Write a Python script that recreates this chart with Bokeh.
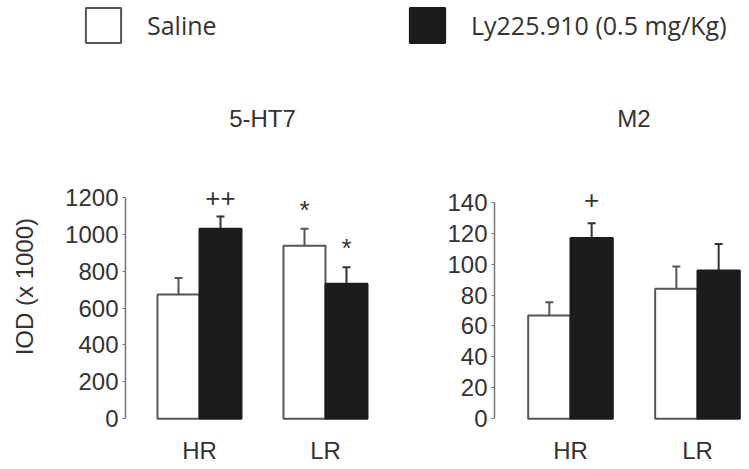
import math
from bokeh.plotting import figure
from bokeh.models import (ColumnDataSource, FixedTicker, Range1d, Whisker, TeeHead,
                          Legend, LegendItem)
from bokeh.transform import dodge
from bokeh.layouts import column, row
from bokeh.core.properties import value
from bokeh.embed import file_html
from bokeh.resources import INLINE

# ---------------- data ----------------
groups = ["HR", "LR"]
series = ["Saline", "Ly225.910 (0.5 mg/Kg)"]
panel_titles = ["5-HT7", "M2"]
y_label = "IOD (x 1000)"

ht7_saline = [673, 937]
ht7_saline_sem = [90, 92]
ht7_ly = [1029, 731]
ht7_ly_sem = [66, 90]
ht7_saline_marks = ["", "*"]
ht7_ly_marks = ["++", "*"]
ht7_ticks = [0, 200, 400, 600, 800, 1000, 1200]

m2_saline = [66.7, 84.0]
m2_saline_sem = [8.6, 14.4]
m2_ly = [116.9, 95.8]
m2_ly_sem = [9.5, 17.2]
m2_saline_marks = ["", ""]
m2_ly_marks = ["+", ""]
m2_ticks = [0, 20, 40, 60, 80, 100, 120, 140]

# ---------------- style / layout ----------------
FONT = "Liberation Sans"
LEG_FONT = "Open Sans"
TXT = "#333333"
AX = "#777777"
WHITE_LINE = "#555555"
BLACK = "#1c1c1c"
BW = 1 / 3.0

PAGE_W, PAGE_H = 749, 469
LEG_H = 100
PANEL_H = PAGE_H - LEG_H
FRAME_TOP = LEG_H     # page px
FRAME_BOT = 421       # page px
ZERO_PX = 418.3       # page px of value 0
LABEL_W = 50          # strip holding the y-axis title


def make_panel(title, sal, sal_sem, ly, ly_sem, sal_marks, ly_marks, ticks,
               top_px, fig_left, frame_left, frame_right, group_px, group_step, mark_dy):
    ppu = (ZERO_PX - top_px) / ticks[-1]
    y0 = -(FRAME_BOT - ZERO_PX) / ppu
    y1 = (ZERO_PX - FRAME_TOP) / ppu
    x_start = (frame_left - group_px) / group_step
    x_end = (frame_right - group_px) / group_step
    xs = list(range(len(groups)))
    src = ColumnDataSource(dict(
        x=xs, sal=sal, ly=ly,
        sal_top=[v + e for v, e in zip(sal, sal_sem)],
        ly_top=[v + e for v, e in zip(ly, ly_sem)],
        sal_mark=sal_marks, ly_mark=ly_marks,
    ))
    p = figure(width=frame_right - fig_left, height=PANEL_H, title=None,
               x_range=Range1d(x_start, x_end), y_range=Range1d(y0, y1),
               output_backend="svg", toolbar_location=None,
               min_border_left=frame_left - fig_left, min_border_right=0,
               min_border_top=0, min_border_bottom=PAGE_H - FRAME_BOT)
    p.outline_line_color = None
    p.grid.visible = False
    p.background_fill_color = "white"

    p.vbar(x=dodge("x", -BW / 2), top="sal", bottom=0, width=BW, source=src,
           fill_color="white", line_color=WHITE_LINE, line_width=2)
    p.vbar(x=dodge("x", BW / 2), top="ly", bottom=0, width=BW, source=src,
           fill_color=BLACK, line_color=BLACK, line_width=2)

    p.add_layout(Whisker(base=dodge("x", -BW / 2), lower="sal", upper="sal_top", source=src,
                         line_color=WHITE_LINE, line_width=2, lower_head=None,
                         upper_head=TeeHead(size=8, line_color=WHITE_LINE, line_width=2)))
    p.add_layout(Whisker(base=dodge("x", BW / 2), lower="ly", upper="ly_top", source=src,
                         line_color="#333333", line_width=2, lower_head=None,
                         upper_head=TeeHead(size=8, line_color="#333333", line_width=2)))

    p.text(x=dodge("x", -BW / 2), y="sal_top", text="sal_mark", source=src,
           text_align="center", text_baseline="alphabetic", y_offset=mark_dy,
           text_font=value(FONT), text_font_size="26px", text_color=TXT)
    p.text(x=dodge("x", BW / 2), y="ly_top", text="ly_mark", source=src,
           text_align="center", text_baseline="alphabetic", y_offset=mark_dy,
           text_font=value(FONT), text_font_size="26px", text_color=TXT)

    # panel title centred between the two groups
    p.text(x=[sum(xs) / len(xs)], y=[y1], text=[title], y_offset=18,
           text_align="center", text_baseline="alphabetic",
           text_font=value(FONT), text_font_size="24px", text_color=TXT)

    yax = p.yaxis[0]
    yax.ticker = FixedTicker(ticks=ticks)
    yax.bounds = (ticks[0], ticks[-1])
    yax.axis_line_color = AX
    yax.axis_line_width = 1.5
    yax.major_tick_line_color = AX
    yax.major_tick_out = 3
    yax.major_tick_in = 0
    yax.minor_tick_line_color = None
    yax.major_label_standoff = 4
    yax.major_label_text_font = FONT
    yax.major_label_text_font_size = "24px"
    yax.major_label_text_color = TXT

    xax = p.xaxis[0]
    xax.ticker = FixedTicker(ticks=xs)
    xax.major_label_overrides = {i: g for i, g in zip(xs, groups)}
    xax.axis_line_color = None
    xax.major_tick_line_color = None
    xax.minor_tick_line_color = None
    xax.major_tick_out = 0
    xax.major_tick_in = 0
    xax.major_label_standoff = 15
    xax.major_label_text_font = FONT
    xax.major_label_text_font_size = "24px"
    xax.major_label_text_color = TXT
    return p


left = make_panel(panel_titles[0], ht7_saline, ht7_saline_sem, ht7_ly, ht7_ly_sem,
                  ht7_saline_marks, ht7_ly_marks, ht7_ticks, 196.7,
                  LABEL_W, 125, 430, 199, 126, -19)
right = make_panel(panel_titles[1], m2_saline, m2_saline_sem, m2_ly, m2_ly_sem,
                   m2_saline_marks, m2_ly_marks, m2_ticks, 201.7,
                   430, 494, PAGE_W, 570, 127, -23)

# ---------------- y-axis title strip (pixel ranges) ----------------
yl = figure(width=LABEL_W, height=PANEL_H, x_range=Range1d(0, LABEL_W),
            y_range=Range1d(PAGE_H, LEG_H), output_backend="svg",
            toolbar_location=None, title=None,
            x_axis_location=None, y_axis_location=None,
            min_border_left=0, min_border_right=0, min_border_top=0, min_border_bottom=0)
yl.grid.visible = False
yl.outline_line_color = None
yl.text(x=[23.5], y=[314], text=[y_label], angle=math.pi / 2,
        text_align="center", text_baseline="middle",
        text_font=value(FONT), text_font_size="24px", text_color=TXT)

# ---------------- legend strip ----------------
lg = figure(width=PAGE_W, height=LEG_H, x_range=Range1d(0, 1), y_range=Range1d(0, 1),
            output_backend="svg", toolbar_location=None, title=None,
            x_axis_location=None, y_axis_location=None,
            min_border_left=0, min_border_right=0, min_border_top=0, min_border_bottom=0)
lg.grid.visible = False
lg.outline_line_color = None
# legend proxies: a single non-finite row, so nothing is drawn in the strip
proxy = ColumnDataSource(dict(x=[float("nan")], top=[float("nan")]))
r_sal = lg.vbar(x="x", top="top", width=0.1, source=proxy,
                fill_color="white", line_color=WHITE_LINE, line_width=2)
r_ly = lg.vbar(x="x", top="top", width=0.1, source=proxy,
               fill_color=BLACK, line_color=BLACK, line_width=2)
legend = Legend(items=[LegendItem(label=series[0], renderers=[r_sal]),
                       LegendItem(label=series[1], renderers=[r_ly])],
                orientation="horizontal", location=(81, 53),
                glyph_width=44, glyph_height=44, label_standoff=22,
                label_width=220, spacing=38, padding=0, margin=0,
                border_line_color=None, background_fill_alpha=0,
                label_text_font=LEG_FONT, label_text_font_size="25px",
                label_text_color=TXT)
lg.add_layout(legend)

layout = column(lg, row(yl, left, right, spacing=0), spacing=0)
open("out.html", "w").write(file_html(layout, INLINE))
